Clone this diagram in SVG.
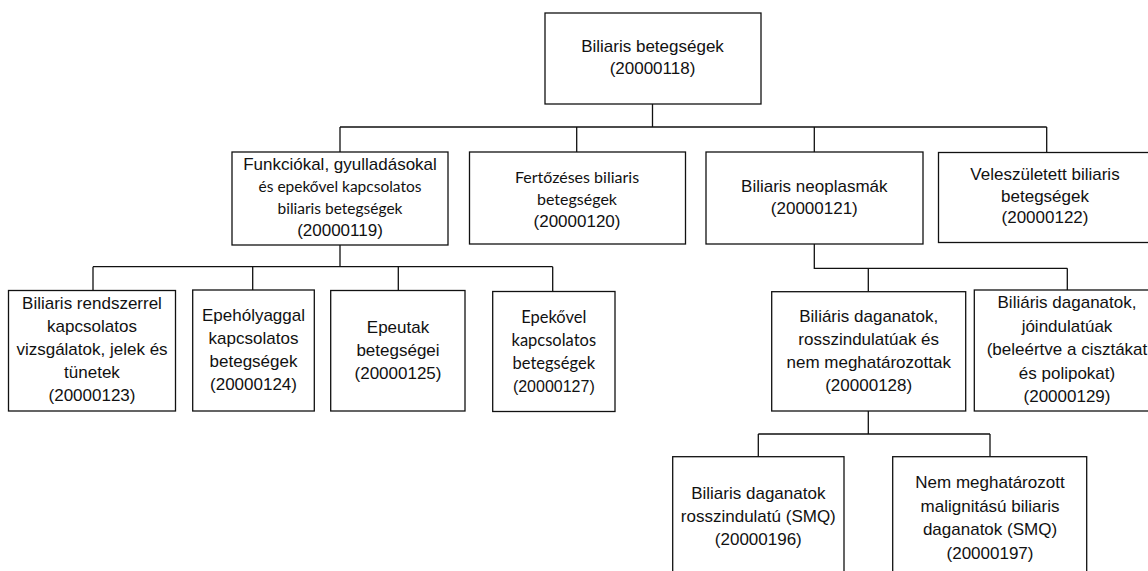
<svg xmlns="http://www.w3.org/2000/svg" width="1148" height="571" viewBox="0 0 1148 571">
<style>
.box{fill:#fff;stroke:#111;stroke-width:1.3}
.c{fill:none;stroke:#111;stroke-width:1.3}
text{font-family:"Liberation Sans",Arial,sans-serif;font-size:17px;fill:#111;text-anchor:middle}
.k{font-family:Lato,"Open Sans",sans-serif;font-size:16.5px}
.k1{font-size:15.5px}
.k2{font-size:16px}
</style>
<rect width="1148" height="571" fill="#fff"/>
<g id="connectors">
<path class="c" d="M652.5,104V127M340,127H1046.7M340,127V152M576.7,127V152M814.3,127V152M1046.7,127V152.5"/>
<path class="c" d="M340,245V266.7M93,266.7H552.7M93,266.7V290.5M252.7,266.7V290M398.3,266.7V290.5M552.7,266.7V291.5"/>
<path class="c" d="M814.3,244V268.3H1067.3M868.3,268.3V291.7M1067.3,268.3V290"/>
<path class="c" d="M868.3,411V434M758.3,434H990M758.3,434V456.7M990,434V456.7"/>
</g>
<g id="n118"><rect class="box" x="545" y="13" width="216" height="91"/><text x="652.5" y="52">Biliaris betegségek</text><text x="652.5" y="74">(20000118)</text></g>
<g id="n119"><rect class="box" x="232" y="152" width="216" height="93"/><text x="340" y="170">Funkciókal, gyulladásokal</text><text class="k k1" x="340" y="192">és epekővel kapcsolatos</text><text class="k k1" x="340" y="214">biliaris betegségek</text><text x="340" y="236">(20000119)</text></g>
<g id="n120"><rect class="box" x="469.5" y="152" width="216" height="92"/><text class="k k2" x="577" y="183">Fertőzéses biliaris</text><text class="k k2" x="577" y="205">betegségek</text><text x="577" y="227">(20000120)</text></g>
<g id="n121"><rect class="box" x="706" y="152" width="217" height="92"/><text x="814.3" y="192">Biliaris neoplasmák</text><text x="814.3" y="213.5">(20000121)</text></g>
<g id="n122"><rect class="box" x="938.5" y="152.5" width="215" height="90"/><text x="1045" y="180">Veleszületett biliaris</text><text x="1045" y="201.5">betegségek</text><text x="1045" y="223">(20000122)</text></g>
<g id="n123"><rect class="box" x="8.5" y="290.5" width="167" height="120.5"/><text x="92" y="309">Biliaris rendszerrel</text><text x="92" y="332">kapcsolatos</text><text x="92" y="355">vizsgálatok, jelek és</text><text x="92" y="378">tünetek</text><text x="92" y="401">(20000123)</text></g>
<g id="n124"><rect class="box" x="192.7" y="290" width="121.6" height="121"/><text x="253.5" y="320.5">Epehólyaggal</text><text x="253.5" y="343.5">kapcsolatos</text><text x="253.5" y="366.5">betegségek</text><text x="253.5" y="390">(20000124)</text></g>
<g id="n125"><rect class="box" x="330.7" y="290.5" width="134.3" height="120.5"/><text x="398" y="333">Epeutak</text><text x="398" y="356">betegségei</text><text x="398" y="379">(20000125)</text></g>
<g id="n127"><rect class="box" x="492.7" y="291.5" width="122.3" height="120"/><text class="k" x="553.8" y="322.5">Epekővel</text><text class="k" x="553.8" y="345.5">kapcsolatos</text><text class="k" x="553.8" y="368.5">betegségek</text><text x="553.8" y="391.5" style="font-size:16px">(20000127)</text></g>
<g id="n128"><rect class="box" x="771.7" y="291.7" width="194" height="119.3"/><text x="868.7" y="322">Biliáris daganatok,</text><text x="868.7" y="345">rosszindulatúak és</text><text x="868.7" y="368">nem meghatározottak</text><text x="868.7" y="391">(20000128)</text></g>
<g id="n129"><rect class="box" x="974.3" y="290" width="190" height="121"/><text x="1067" y="308">Biliáris daganatok,</text><text x="1067" y="331.5">jóindulatúak</text><text x="1067" y="355">(beleértve a cisztákat</text><text x="1067" y="378.5">és polipokat)</text><text x="1067" y="401.5">(20000129)</text></g>
<g id="n196"><rect class="box" x="672.7" y="456.7" width="171.3" height="130"/><text x="758.3" y="498.5">Biliaris daganatok</text><text x="758.3" y="521.5">rosszindulatú (SMQ)</text><text x="758.3" y="545">(20000196)</text></g>
<g id="n197"><rect class="box" x="892.7" y="456.7" width="194" height="130"/><text x="990" y="488">Nem meghatározott</text><text x="990" y="511.5">malignitású biliaris</text><text x="990" y="535">daganatok (SMQ)</text><text x="990" y="558.5">(20000197)</text></g>
</svg>
